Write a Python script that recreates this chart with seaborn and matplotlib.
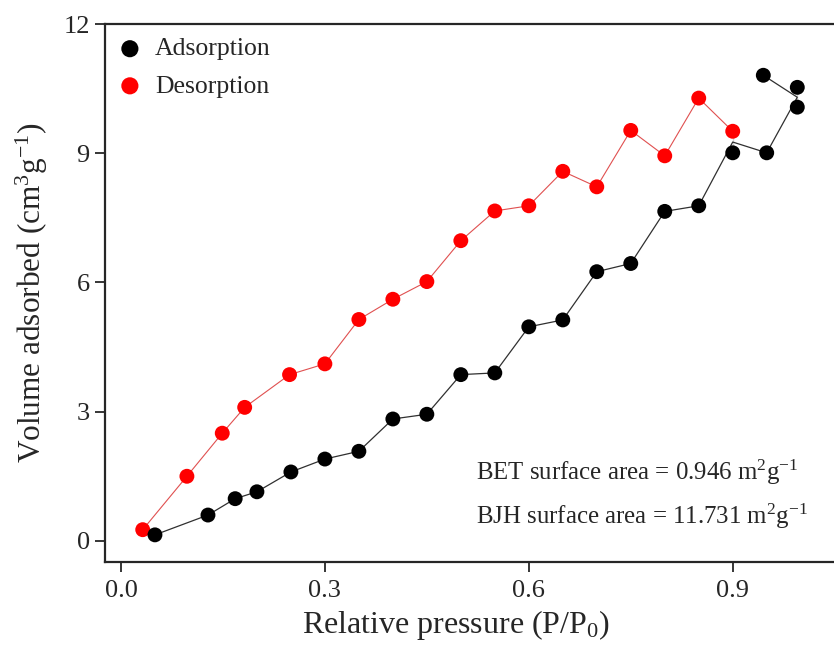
import pandas as pd
import matplotlib
matplotlib.use("Agg")
import matplotlib.pyplot as plt
import seaborn as sns

# adsorption branch (P/P0, volume)
ads_p = [0.05, 0.128, 0.168, 0.2, 0.25, 0.3, 0.35, 0.4, 0.45, 0.5,
         0.55, 0.6, 0.65, 0.7, 0.75, 0.8, 0.85, 0.9, 0.95, 0.995]
ads_v = [0.14, 0.6, 0.98, 1.14, 1.6, 1.9, 2.08, 2.83, 2.94, 3.86,
         3.9, 4.97, 5.13, 6.25, 6.44, 7.65, 7.78, 9.01, 9.01, 10.53]

# desorption branch
des_p = [0.995, 0.945, 0.9, 0.85, 0.8, 0.75, 0.7, 0.65, 0.6, 0.55,
         0.5, 0.45, 0.4, 0.35, 0.3, 0.248, 0.182, 0.149, 0.097, 0.032]
des_v = [10.07, 10.81, 9.51, 10.28, 8.94, 9.53, 8.22, 8.58, 7.78, 7.66,
         6.97, 6.02, 5.61, 5.14, 4.11, 3.86, 3.1, 2.5, 1.5, 0.26]

x_ticks = [0.0, 0.3, 0.6, 0.9]
y_ticks = [0, 3, 6, 9, 12]

sns.set_style("ticks")
plt.rcParams["font.family"] = ["Liberation Serif", "DejaVu Serif"]
plt.rcParams["mathtext.fontset"] = "custom"
plt.rcParams["mathtext.rm"] = "Liberation Serif"
plt.rcParams["mathtext.it"] = "Liberation Serif:italic"

# black trace runs through the first desorption points (as in the original)
n_black = 2
black = pd.DataFrame({"p": ads_p + des_p[:n_black + 1], "v": ads_v + des_v[:n_black + 1]})
black_pts = pd.DataFrame({"p": ads_p + des_p[:n_black], "v": ads_v + des_v[:n_black]})
red = pd.DataFrame({"p": des_p[n_black:], "v": des_v[n_black:]})

fig = plt.figure(figsize=(8.34, 6.6), dpi=100)
ax = fig.add_axes([0.1259, 0.1485, 0.8741, 0.8151])

sns.lineplot(data=black, x="p", y="v", sort=False, color="#303030", lw=0.9, ax=ax)
sns.lineplot(data=red, x="p", y="v", sort=False, color="#e05050", lw=0.8, ax=ax)
sns.scatterplot(data=red, x="p", y="v", color="#ff0000", s=115, edgecolor="none",
                ax=ax, label="Desorption", zorder=3)
sns.scatterplot(data=black_pts, x="p", y="v", color="black", s=115, edgecolor="none",
                ax=ax, label="Adsorption", zorder=4)

ax.set_xlim(-0.0235, 1.049)
ax.set_ylim(-0.49, 12)
ax.set_xticks(x_ticks)
ax.set_xticklabels([f"{t:.1f}" for t in x_ticks])
ax.set_yticks(y_ticks)
ax.tick_params(axis="both", direction="out", length=7, width=1.3, labelsize=19)
ax.tick_params(axis="x", pad=6)
ax.tick_params(axis="y", pad=4)
for side in ["left", "bottom", "top"]:
    ax.spines[side].set_linewidth(1.6)
ax.spines["right"].set_visible(False)

ax.set_xlabel("Relative pressure (P/P$_0$)", fontsize=23)
ax.set_ylabel("Volume adsorbed (cm$^3$g$^{-1}$)", fontsize=22.5)
ax.xaxis.set_label_coords(0.481, -0.085)
ax.yaxis.set_label_coords(-0.075, 0.5)

h, l = ax.get_legend_handles_labels()
ax.legend(h[::-1], l[::-1], loc="upper left", frameon=False, fontsize=18.5,
          handlelength=1.0, handletextpad=0.48, borderpad=0, borderaxespad=0,
          labelspacing=0.55, markerscale=1.15, bbox_to_anchor=(0.0165, 0.975))

ax.text(0.509, 0.153, "BET surface area = 0.946 m$^2$g$^{-1}$", transform=ax.transAxes,
        fontsize=17.9, ha="left", va="baseline")
ax.text(0.509, 0.071, "BJH surface area = 11.731 m$^2$g$^{-1}$", transform=ax.transAxes,
        fontsize=17.9, ha="left", va="baseline")

fig.savefig("out.png", dpi=100)
